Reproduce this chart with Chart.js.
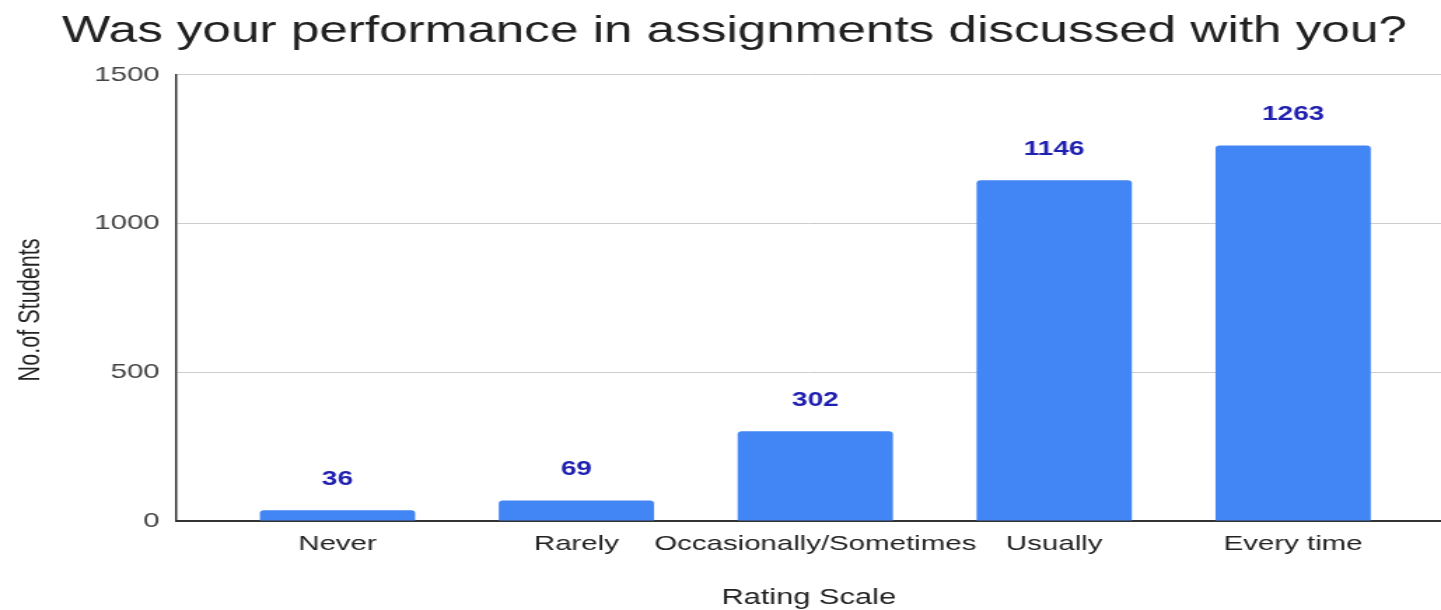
<!DOCTYPE html>
<html>
<head>
<meta charset="utf-8">
<script src="https://cdn.jsdelivr.net/npm/chart.js@4.4.1/dist/chart.umd.min.js"></script>
<style>
  body { margin: 0; background: #fff; }
  #chart { display: block; }
</style>
</head>
<body>
<!-- the source picture is stretched sideways, so the canvas is drawn narrow and widened by css -->
<canvas id="chart" width="1029" height="610" style="width:1441px;height:610px"></canvas>
<script>
var categories = ["Never", "Rarely", "Occasionally/Sometimes", "Usually", "Every time"];
var students = [36, 69, 302, 1146, 1263];
var y_ticks = [0, 500, 1000, 1500];

var titulo = "Was your performance in assignments discussed with you?";
var y_title = "No.of Students";
var x_title = "Rating Scale";

var font_family = "'Liberation Sans', Arial, sans-serif";

var points = categories.map(function (c, i) { return { x: i, y: students[i] }; });

var value_labels = {
    id: 'value_labels',
    afterDatasetsDraw: function (chart) {
        var ctx = chart.ctx;
        var meta = chart.getDatasetMeta(0);
        ctx.save();
        ctx.font = "bold 20px " + font_family;
        ctx.fillStyle = "#2020b0";
        ctx.textAlign = "center";
        ctx.textBaseline = "middle";
        meta.data.forEach(function (bar, i) {
            ctx.fillText(String(students[i]), bar.x, bar.y - 31);
        });
        ctx.restore();
    }
};

var ctx = document.getElementById('chart').getContext('2d');
var myChart = new Chart(ctx, {
    type: 'bar',
    data: {
        datasets: [{
            label: y_title,
            data: points,
            backgroundColor: "#4285f4",
            borderRadius: { topLeft: 3, topRight: 3 },
            borderSkipped: 'bottom',
            categoryPercentage: 1,
            barPercentage: 0.65
        }]
    },
    options: {
        responsive: false,
        devicePixelRatio: 1,
        animation: false,
        layout: {
            padding: { left: 20, right: 0, top: 0, bottom: 0 }
        },
        scales: {
            x: {
                type: 'linear',
                offset: false,
                min: -0.674,
                max: 4.619,
                afterBuildTicks: function (scale) {
                    scale.ticks = categories.map(function (c, i) { return { value: i }; });
                },
                afterFit: function (scale) { scale.height = 89; },
                grid: { display: false, drawTicks: false, offset: false },
                border: { display: true, color: "#333", width: 2 },
                ticks: {
                    autoSkip: false,
                    maxRotation: 0,
                    padding: 11,
                    color: "#222",
                    font: { family: font_family, size: 21 },
                    callback: function (value) { return categories[value]; }
                },
                title: {
                    display: true,
                    text: x_title,
                    color: "#222",
                    font: { family: font_family, size: 22 },
                    padding: { top: 0, bottom: -1 }
                }
            },
            y: {
                min: 0,
                max: 1500,
                afterBuildTicks: function (scale) {
                    scale.ticks = y_ticks.map(function (v) { return { value: v }; });
                },
                afterFit: function (scale) { scale.width = 106; },
                grid: { color: "#cccccc", lineWidth: 1, drawTicks: false },
                border: { display: true, color: "#333", width: 1.5 },
                ticks: {
                    padding: 12,
                    color: "#444",
                    font: { family: font_family, size: 21 },
                    callback: function (value) { return String(value); }
                },
                title: {
                    display: true,
                    text: y_title + "    ",
                    color: "#222",
                    font: { family: font_family, size: 21.6 },
                    padding: { top: -11, bottom: 0 }
                }
            }
        },
        plugins: {
            legend: { display: false },
            tooltip: { enabled: false },
            title: {
                display: true,
                text: titulo,
                color: "#212121",
                font: { family: font_family, size: 36.6, weight: 'normal' },
                padding: { top: 10, bottom: 21 }
            }
        }
    },
    plugins: [value_labels]
});
</script>
</body>
</html>
